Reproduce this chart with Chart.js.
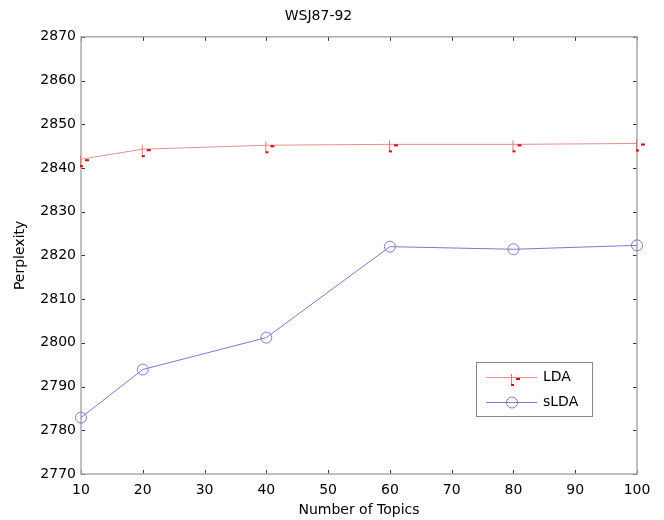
<!DOCTYPE html>
<html>
<head>
<meta charset="utf-8">
<script src="https://cdn.jsdelivr.net/npm/chart.js@4/dist/chart.umd.min.js"></script>
<style>
  html, body { margin: 0; padding: 0; background: #fff; }
  #c { display: block; }
</style>
</head>
<body>
<canvas id="c" width="664" height="520"></canvas>
<script>
const topics = [10, 20, 40, 60, 80, 100];
const ldaValues = [2842.0, 2844.3, 2845.2, 2845.4, 2845.4, 2845.6];
const sldaValues = [2782.9, 2793.9, 2801.2, 2822.0, 2821.4, 2822.3];
const seriesNames = ['LDA', 'sLDA'];
const chartTitle = 'WSJ87-92';
const xTitle = 'Number of Topics';
const yTitle = 'Perplexity';

const FONT = '"DejaVu Sans", Verdana, sans-serif';
const RED_LINE = 'rgb(232,140,140)';
const BLUE_LINE = 'rgb(120,120,214)';

// custom LDA marker (vertical stroke with red dashes)
function makeLdaMarker() {
  const m = document.createElement('canvas');
  m.width = 20; m.height = 20;
  const g = m.getContext('2d');
  g.strokeStyle = 'rgb(225,120,120)';
  g.lineWidth = 1;
  g.beginPath(); g.moveTo(9.5, 6); g.lineTo(9.5, 17); g.stroke();
  g.fillStyle = 'rgb(230,0,0)';
  g.fillRect(9, 16, 3, 2);
  g.fillRect(14, 10, 4, 2);
  return m;
}
const ldaMarker = makeLdaMarker();

const frameTicks = {
  id: 'frameTicks',
  beforeDatasetsDraw(chart) {
    const { ctx, chartArea: a, scales } = chart;
    const xs = scales.x, ys = scales.y;
    ctx.save();
    ctx.strokeStyle = '#333';
    ctx.lineWidth = 1;
    const L = 4;
    ctx.beginPath();
    xs.ticks.forEach(t => {
      const px = Math.round(xs.getPixelForValue(t.value)) + 0.5;
      ctx.moveTo(px, a.bottom); ctx.lineTo(px, a.bottom - L);
      ctx.moveTo(px, a.top); ctx.lineTo(px, a.top + L);
    });
    ys.ticks.forEach(t => {
      const py = Math.round(ys.getPixelForValue(t.value)) + 0.5;
      ctx.moveTo(a.left, py); ctx.lineTo(a.left + L, py);
      ctx.moveTo(a.right, py); ctx.lineTo(a.right - L, py);
    });
    ctx.stroke();
    ctx.strokeStyle = '#aaaaaa';
    ctx.lineWidth = 1.5;
    ctx.strokeRect(a.left, a.top, a.right - a.left, a.bottom - a.top);
    ctx.restore();
  }
};

const boxLegend = {
  id: 'boxLegend',
  afterDraw(chart) {
    const { ctx } = chart;
    const x0 = 476, y0 = 362, w = 116, h = 54;
    ctx.save();
    ctx.fillStyle = '#fff';
    ctx.fillRect(x0, y0, w, h);
    ctx.strokeStyle = '#888';
    ctx.lineWidth = 1;
    ctx.strokeRect(x0 + 0.5, y0 + 0.5, w, h);
    const rows = [377, 402];
    chart.data.datasets.forEach((ds, i) => {
      const y = rows[i] + 0.5;
      ctx.strokeStyle = ds.borderColor;
      ctx.lineWidth = 1;
      ctx.beginPath(); ctx.moveTo(486, y); ctx.lineTo(537, y); ctx.stroke();
      if (ds.pointStyle === 'circle') {
        ctx.beginPath(); ctx.arc(512, y, ds.pointRadius, 0, Math.PI * 2);
        ctx.strokeStyle = ds.pointBorderColor; ctx.stroke();
      } else {
        ctx.drawImage(ds.pointStyle, 512 - 10, Math.round(y) - 10);
      }
      ctx.fillStyle = '#000';
      ctx.font = '14px ' + FONT;
      ctx.textBaseline = 'middle';
      ctx.textAlign = 'left';
      ctx.fillText(ds.label, 543, y);
    });
    ctx.restore();
  }
};

new Chart(document.getElementById('c'), {
  type: 'line',
  data: {
    datasets: [
      {
        label: seriesNames[0],
        data: topics.map((t, i) => ({ x: t, y: ldaValues[i] })),
        borderColor: RED_LINE,
        borderWidth: 1,
        pointStyle: ldaMarker,
        pointRadius: 10,
        pointBorderColor: RED_LINE,
        fill: false,
        tension: 0,
        clip: false
      },
      {
        label: seriesNames[1],
        data: topics.map((t, i) => ({ x: t, y: sldaValues[i] })),
        borderColor: BLUE_LINE,
        borderWidth: 1,
        pointStyle: 'circle',
        pointRadius: 5.5,
        pointBorderWidth: 1,
        pointBorderColor: BLUE_LINE,
        pointBackgroundColor: 'rgba(0,0,0,0)',
        fill: false,
        tension: 0,
        clip: false
      }
    ]
  },
  options: {
    responsive: false,
    animation: false,
    devicePixelRatio: 1,
    layout: { padding: { left: 0, right: 27, top: 0, bottom: 0 } },
    plugins: {
      legend: { display: false },
      tooltip: { enabled: false },
      title: {
        display: true,
        text: chartTitle,
        color: '#000',
        font: { family: FONT, size: 14, weight: 'normal' },
        padding: { top: 8, bottom: 12 }
      }
    },
    scales: {
      x: {
        type: 'linear',
        min: 10, max: 100,
        ticks: { stepSize: 10, color: '#000', font: { family: FONT, size: 14 }, padding: 8, maxRotation: 0,
                 callback: v => String(v) },
        grid: { display: false, drawTicks: false },
        border: { display: false },
        title: { display: true, text: xTitle, color: '#000', font: { family: FONT, size: 14 }, padding: { top: 0, bottom: 1 } },
        afterFit(s) { s.height = 46; }
      },
      y: {
        type: 'linear',
        min: 2770, max: 2870,
        ticks: { stepSize: 10, color: '#000', font: { family: FONT, size: 14 }, padding: 5,
                 callback: v => String(v) },
        grid: { display: false, drawTicks: false },
        border: { display: false },
        title: { display: true, text: yTitle, color: '#000', font: { family: FONT, size: 14 }, padding: { top: 12, bottom: 0 } },
        afterFit(s) { s.width = 81; }
      }
    }
  },
  plugins: [frameTicks, boxLegend]
});
</script>
</body>
</html>
